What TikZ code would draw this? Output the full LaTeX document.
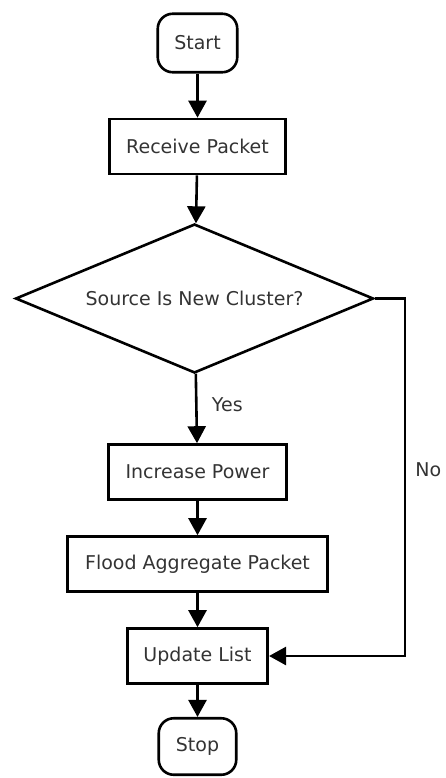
\documentclass[tikz,border=0pt]{standalone}
\usepackage{fontspec}
\setmainfont{DejaVu Sans}
\usetikzlibrary{arrows.meta,shapes.geometric}
\tikzset{%
  >={Triangle[width=18pt,length=17pt]},
  % Specifications for style of nodes:
      base/.style = {draw=black, line width=2.6pt, text=black!80,
                     text centered, inner sep=2pt},
  terminal/.style = {base, rectangle, rounded corners=15pt,
                     minimum width=79.5pt, minimum height=58.5pt},
   process/.style = {base, rectangle, minimum height=55pt},
  decision/.style = {base, diamond, aspect=2.38,
                     minimum width=358pt, minimum height=149pt},
}

\begin{document}
\begin{tikzpicture}[x=1pt, y=1pt, node distance=92pt, line width=2.6pt,
    font=\fontsize{19}{23}\selectfont, text=black!80]
  \useasboundingbox (0,0) rectangle (445,-778);

  % Specification of nodes (position, etc.)
  \node (start)   [terminal] at (197.5,-43)                        {Start};
  \node (receive) [process, minimum width=176.5pt, below of=start, yshift=-11.5pt] {Receive Packet};
  \node (check)   [decision, below of=receive, yshift=-60pt, xshift=-3pt] {Source Is New Cluster?};
  \node (power)   [process, minimum width=177.5pt, below of=check, yshift=-81.5pt, xshift=3pt] {Increase Power};
  \node (flood)   [process, minimum width=259.5pt, below of=power] {Flood Aggregate Packet};
  \node (update)  [process, minimum width=140.5pt, below of=flood] {Update List};
  \node (stop)    [terminal, minimum width=77.5pt, minimum height=56.5pt,
                   below of=update, yshift=1.5pt]                 {Stop};

  % Specification of lines between nodes specified above
  \draw[->] (start)   -- (receive);
  \draw[->] (receive) -- (check);
  \draw[->] (check)   -- node[right, xshift=11pt, pos=0.45] {Yes} (power);
  \draw[->] (power)   -- (flood);
  \draw[->] (flood)   -- (update);
  \draw[->] (update)  -- (stop);
  \draw[->] (check.east) -- ++(30,0) |- node[right, xshift=6pt, pos=0.24] {No} (update.east);
\end{tikzpicture}
\end{document}
